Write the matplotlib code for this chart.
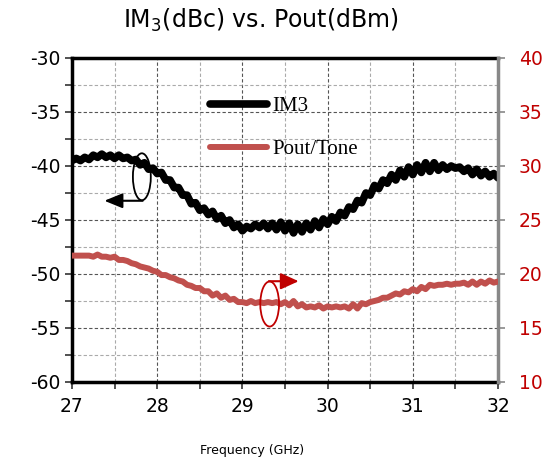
#!/usr/bin/env python3
"""IM3 and Pout/Tone vs frequency, dual y axes."""
import matplotlib

matplotlib.use("Agg")
import matplotlib.pyplot as plt
from matplotlib.lines import Line2D
from matplotlib.patches import Ellipse

plt.rcParams["axes.unicode_minus"] = False

FREQ = [27.00, 27.05, 27.10, 27.15, 27.20, 27.25, 27.30, 27.35, 27.40, 27.45,
        27.50, 27.55, 27.60, 27.65, 27.70, 27.75, 27.80, 27.85, 27.90, 27.95,
        28.00, 28.05, 28.10, 28.15, 28.20, 28.25, 28.30, 28.35, 28.40, 28.45,
        28.50, 28.55, 28.60, 28.65, 28.70, 28.75, 28.80, 28.85, 28.90, 28.95,
        29.00, 29.05, 29.10, 29.15, 29.20, 29.25, 29.30, 29.35, 29.40, 29.45,
        29.50, 29.55, 29.60, 29.65, 29.70, 29.75, 29.80, 29.85, 29.90, 29.95,
        30.00, 30.05, 30.10, 30.15, 30.20, 30.25, 30.30, 30.35, 30.40, 30.45,
        30.50, 30.55, 30.60, 30.65, 30.70, 30.75, 30.80, 30.85, 30.90, 30.95,
        31.00, 31.05, 31.10, 31.15, 31.20, 31.25, 31.30, 31.35, 31.40, 31.45,
        31.50, 31.55, 31.60, 31.65, 31.70, 31.75, 31.80, 31.85, 31.90, 31.95,
        32.00]

IM3 = [-39.5, -39.3, -39.5, -39.2, -39.4, -39.0, -39.2, -38.9, -39.2, -39.0,
       -39.3, -39.0, -39.3, -39.2, -39.5, -39.4, -39.9, -39.7, -40.3, -40.2,
       -40.7, -40.6, -41.3, -41.3, -42.0, -42.0, -42.7, -42.7, -43.5, -43.4,
       -44.1, -43.9, -44.5, -44.2, -44.9, -44.6, -45.3, -45.0, -45.7, -45.4,
       -46.0, -45.6, -45.8, -45.4, -45.7, -45.3, -45.8, -45.3, -45.9, -45.2,
       -46.0, -45.3, -46.2, -45.4, -46.1, -45.3, -45.9, -45.1, -45.7, -44.9,
       -45.4, -44.7, -45.1, -44.3, -44.6, -43.8, -44.0, -43.2, -43.4, -42.5,
       -42.7, -41.8, -42.1, -41.3, -41.6, -40.8, -41.3, -40.4, -41.0, -40.1,
       -40.8, -39.9, -40.6, -39.7, -40.5, -39.7, -40.4, -39.9, -40.3, -40.0,
       -40.2, -40.1, -40.5, -40.2, -40.8, -40.3, -40.9, -40.5, -41.0, -40.7,
       -41.1]

POUT = [21.7, 21.7, 21.7, 21.7, 21.7, 21.6, 21.8, 21.6, 21.6, 21.5,
        21.6, 21.3, 21.3, 21.2, 21.0, 20.9, 20.7, 20.6, 20.5, 20.3,
        20.2, 19.9, 19.9, 19.7, 19.6, 19.4, 19.3, 19.0, 18.9, 18.7,
        18.7, 18.4, 18.4, 18.0, 18.2, 17.8, 18.0, 17.6, 17.7, 17.4,
        17.4, 17.3, 17.5, 17.3, 17.4, 17.3, 17.4, 17.3, 17.4, 17.2,
        17.4, 17.1, 17.5, 17.0, 17.2, 16.9, 17.0, 16.9, 17.1, 16.8,
        17.0, 16.9, 17.0, 16.9, 17.0, 16.8, 17.2, 16.8, 17.3, 17.2,
        17.4, 17.5, 17.6, 17.8, 17.8, 18.0, 18.2, 18.1, 18.4, 18.3,
        18.6, 18.4, 18.8, 18.6, 19.0, 18.9, 19.0, 19.0, 19.1, 19.0,
        19.1, 19.1, 19.2, 19.0, 19.3, 19.0, 19.3, 19.1, 19.4, 19.2,
        19.3]

X_TICKS = [27, 28, 29, 30, 31, 32]
LEFT_TICKS = [-60, -55, -50, -45, -40, -35, -30]
RIGHT_TICKS = [10, 15, 20, 25, 30, 35, 40]

BLACK = "#000000"
RED_LINE = "#c0504d"
RED_TXT = "#c00000"

fig = plt.figure(figsize=(5.52, 4.68), dpi=100)
ax = fig.add_axes([0.1304, 0.1838, 0.7718, 0.6923])
ax2 = ax.twinx()

ax.plot(FREQ, IM3, color=BLACK, lw=5.5, solid_capstyle="round", zorder=3)
ax2.plot(FREQ, POUT, color=RED_LINE, lw=4.3, solid_capstyle="round", zorder=3)

ax.set_xlim(27, 32)
ax.set_ylim(-60, -30)
ax2.set_ylim(10, 40)
ax.set_xticks(X_TICKS)
ax.set_xticks([27.5, 28.5, 29.5, 30.5, 31.5], minor=True)
ax.set_yticks(LEFT_TICKS)
ax.set_yticks([-57.5, -52.5, -47.5, -42.5, -37.5, -32.5], minor=True)
ax2.set_yticks(RIGHT_TICKS)

ax.grid(True, which="major", color="#555555", ls=(0, (3, 2)), lw=0.8)
ax.grid(True, which="minor", color="#aaaaaa", ls=(0, (3, 2)), lw=0.8)
ax.set_axisbelow(True)

ax.tick_params(axis="both", which="both", direction="out", length=5, width=1.2,
               color="#333333", labelsize=13.5)
ax.tick_params(axis="x", pad=6)
ax2.tick_params(axis="y", direction="out", length=5, width=1.2, color="#888888",
                labelsize=13.5, labelcolor=RED_TXT, pad=10)

for side in ("left", "bottom", "top"):
    ax.spines[side].set_linewidth(2.5)
    ax.spines[side].set_color(BLACK)
ax2.spines["right"].set_linewidth(2.5)
ax2.spines["right"].set_color("#888888")
for side in ("left", "bottom", "top"):
    ax2.spines[side].set_visible(False)
ax.spines["right"].set_visible(False)

# axis-pointer annotations
ax.add_patch(Ellipse((27.82, -41.0), 0.21, 4.35, fill=False, ec=BLACK, lw=1.3, zorder=4))
ax.annotate("", xy=(27.38, -43.22), xytext=(27.83, -43.22),
            arrowprops=dict(arrowstyle="-|>,head_length=1.1,head_width=0.45",
                            color=BLACK, lw=1.5, shrinkA=0, shrinkB=0))
ax2.add_patch(Ellipse((29.32, 17.22), 0.22, 4.17, fill=False, ec=RED_TXT, lw=1.3, zorder=4))
ax2.annotate("", xy=(29.66, 19.33), xytext=(29.31, 19.33),
             arrowprops=dict(arrowstyle="-|>,head_length=1.1,head_width=0.5",
                             color=RED_TXT, lw=1.5, shrinkA=0, shrinkB=0))

handles = [Line2D([], [], color=BLACK, lw=5.5, solid_capstyle="round"),
           Line2D([], [], color=RED_LINE, lw=4.3, solid_capstyle="round")]
ax2.legend(handles, ["IM3", "Pout/Tone"], loc="upper left",
           bbox_to_anchor=(0.325, 0.88), frameon=False, borderpad=0,
           borderaxespad=0, handlelength=2.7, handletextpad=0.25,
           labelspacing=1.1, prop={"family": "Liberation Serif", "size": 15})

fig.text(0.472, 0.957, "IM$_3$(dBc) vs. Pout(dBm)", ha="center", va="center",
         fontsize=17)
fig.text(0.457, 0.038, "Frequency (GHz)", ha="center", va="center", fontsize=9)

fig.savefig("out.png", dpi=100)
